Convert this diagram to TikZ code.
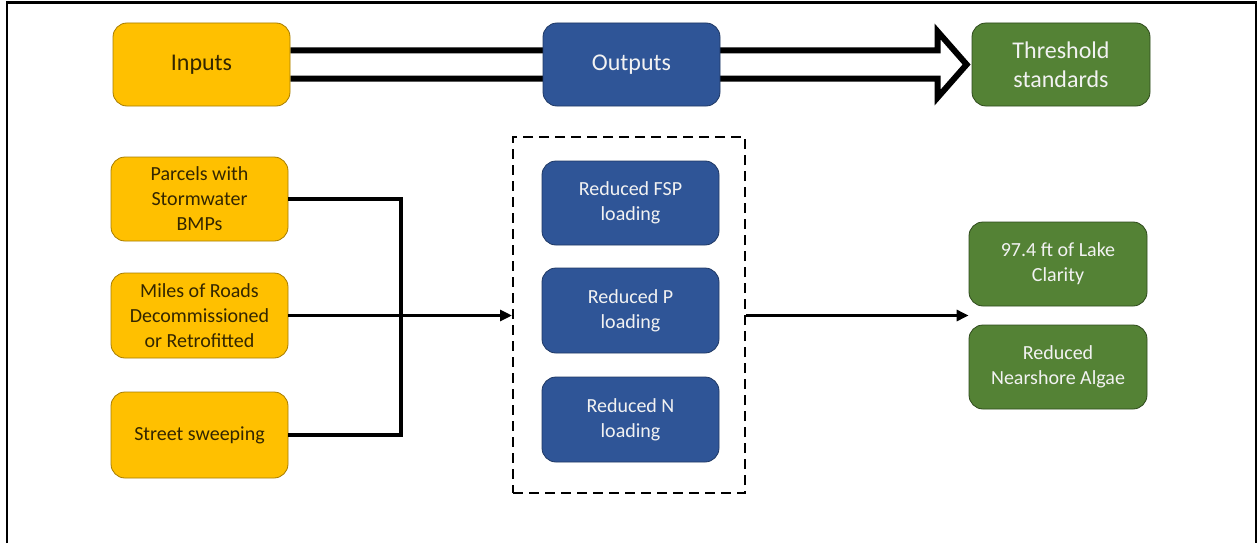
\documentclass[tikz,border=0pt]{standalone}
\usepackage{fontspec}
\setmainfont{Carlito}
\usetikzlibrary{calc,backgrounds,arrows.meta}
\definecolor{yel}{HTML}{FFC000}
\definecolor{yelb}{HTML}{A67C00}
\definecolor{yelt}{HTML}{332600}
\definecolor{blu}{HTML}{2F5597}
\definecolor{blub}{HTML}{1F3864}
\definecolor{grn}{HTML}{548235}
\definecolor{grnb}{HTML}{2E4A1C}
\definecolor{ltxt}{HTML}{F2F2F2}
\begin{document}
\begin{tikzpicture}[x=1pt,y=-1pt,
  box/.style={rounded corners=14pt, line width=0.8pt, align=center, inner sep=2pt,
    font=\fontsize{20}{25}\selectfont},
  ybox/.style={box, fill=yel, draw=yelb, text=yelt},
  bbox/.style={box, fill=blu, draw=blub, text=ltxt},
  gbox/.style={box, fill=grn, draw=grnb, text=ltxt},
  big/.style={font=\fontsize{24}{29}\selectfont},
  conn/.style={line width=4pt},
  thinconn/.style={line width=3pt, -{Triangle[length=12pt,width=11pt]}}
]
\useasboundingbox (0,0) rectangle (1257,543);
\draw[line width=2.5pt] (7,543) -- (7,2.5) -- (1256,2.5) -- (1256,543);

% top row
\node[ybox, big, minimum width=177pt, minimum height=83pt] (inputs) at (201.5,64.5) {Inputs};
\node[bbox, big, minimum width=177pt, minimum height=83pt] (outputs) at (631.5,64.5) {Outputs};
\node[gbox, big, minimum width=178pt, minimum height=83pt] (thr) at (1061,64.5) {Threshold\\standards};

% inputs column
\node[ybox, minimum width=177pt, minimum height=84pt] (parcels) at (199.5,199) {Parcels with\\Stormwater\\BMPs};
\node[ybox, minimum width=177pt, minimum height=85pt] (miles) at (199.5,315.5) {Miles of Roads\\Decommissioned\\or Retrofitted};
\node[ybox, minimum width=177pt, minimum height=86pt] (street) at (199.5,435) {Street sweeping};

% outputs group
\node[draw, line width=2pt, dash pattern=on 10pt off 6pt, minimum width=232pt, minimum height=356pt] (group) at (629,315) {};
\node[bbox, minimum width=177pt, minimum height=84pt] (fsp) at (630.5,203) {Reduced FSP\\loading};
\node[bbox, minimum width=177pt, minimum height=85pt] (pP) at (630.5,310.5) {Reduced P\\loading};
\node[bbox, minimum width=177pt, minimum height=85pt] (nN) at (630.5,419.5) {Reduced N\\loading};

% outcomes
\node[gbox, minimum width=178pt, minimum height=84pt] (lake) at (1058,264) {97.4 ft of Lake\\Clarity};
\node[gbox, minimum width=178pt, minimum height=84pt] (algae) at (1058,367) {Reduced\\Nearshore Algae};

% hollow arrow behind the top row
\begin{scope}[on background layer]
\draw[line width=6pt, line join=miter, miter limit=10]
  ($(inputs.east)+(0,-14)$) -- ($(thr.west)+(-34,-14)$) -- ($(thr.west)+(-34,-33)$)
  -- ($(thr.west)+(-5,0)$) -- ($(thr.west)+(-34,33)$) -- ($(thr.west)+(-34,14)$)
  -- ($(inputs.east)+(0,14)$);
\end{scope}

% bracket connectors
\coordinate (j) at (401,315.5);
\draw[conn] (parcels.east) -| (j);
\draw[conn] (street.east) -| (j);
\draw[thinconn] (miles.east) -- (miles.east -| group.west);

% group to outcomes
\coordinate (gap) at ($(lake.south)!0.5!(algae.north)$);
\draw[thinconn] (gap -| group.east) -- (gap -| lake.west);
\end{tikzpicture}
\end{document}
